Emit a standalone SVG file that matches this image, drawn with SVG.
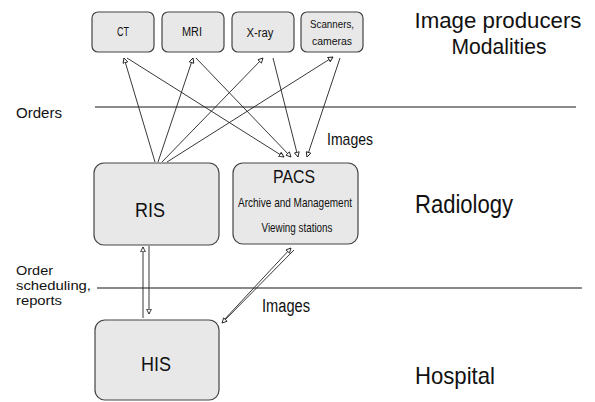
<svg xmlns="http://www.w3.org/2000/svg" width="595" height="402" viewBox="0 0 595 402">
<style>
text{font-family:"Liberation Sans",Arial,sans-serif;fill:#111}
.box{fill:#e8e8e8;stroke:#444;stroke-width:1.2}
.sep{stroke:#8a8a8a;stroke-width:2}
.c{fill:none;stroke:#222;stroke-width:0.9}
</style>
<defs>
<marker id="ah" viewBox="0 0 10 10" refX="9" refY="5" markerWidth="6" markerHeight="6" orient="auto" markerUnits="userSpaceOnUse">
<path d="M1,1 L9,5 L1,9 Z" fill="#fff" stroke="#222" stroke-width="1.5"/>
</marker>
</defs>
<rect width="595" height="402" fill="#fff"/>
<line class="sep" x1="95" y1="107" x2="576" y2="107"/>
<line class="sep" x1="97" y1="288" x2="582" y2="288"/>

<g id="ct"><rect class="box" x="92" y="12" width="62" height="40" rx="6"/><text x="123" y="36" font-size="12" text-anchor="middle" textLength="12" lengthAdjust="spacingAndGlyphs">CT</text></g>
<g id="mri"><rect class="box" x="162" y="12" width="62" height="40" rx="6"/><text x="192" y="36" font-size="12" text-anchor="middle" textLength="20" lengthAdjust="spacingAndGlyphs">MRI</text></g>
<g id="xray"><rect class="box" x="232" y="12" width="62" height="40" rx="6"/><text x="260" y="37" font-size="12" text-anchor="middle" textLength="27" lengthAdjust="spacingAndGlyphs">X-ray</text></g>
<g id="scanners"><rect class="box" x="301" y="12" width="62" height="40" rx="6"/><text x="332" y="28" font-size="11" text-anchor="middle" textLength="44" lengthAdjust="spacingAndGlyphs">Scanners,</text><text x="332" y="45" font-size="11" text-anchor="middle" textLength="40" lengthAdjust="spacingAndGlyphs">cameras</text></g>

<g id="ris"><rect class="box" x="94" y="163" width="125" height="82" rx="10"/><text x="150" y="217" font-size="21" text-anchor="middle" textLength="30" lengthAdjust="spacingAndGlyphs">RIS</text></g>
<g id="pacs"><rect class="box" x="233" y="163" width="125" height="81" rx="10"/><text x="294" y="183" font-size="18" text-anchor="middle" textLength="42" lengthAdjust="spacingAndGlyphs">PACS</text><text x="295" y="207" font-size="13" text-anchor="middle" textLength="114" lengthAdjust="spacingAndGlyphs">Archive and Management</text><text x="297" y="232" font-size="13" text-anchor="middle" textLength="71" lengthAdjust="spacingAndGlyphs">Viewing stations</text></g>
<g id="his"><rect class="box" x="95" y="320" width="124" height="80" rx="10"/><text x="156" y="371" font-size="21" text-anchor="middle" textLength="30" lengthAdjust="spacingAndGlyphs">HIS</text></g>

<g id="connectors">
<line class="c" x1="155" y1="162" x2="124" y2="58" marker-end="url(#ah)"/>
<line class="c" x1="158" y1="162" x2="193" y2="58" marker-end="url(#ah)"/>
<line class="c" x1="162" y1="162" x2="263" y2="58" marker-end="url(#ah)"/>
<line class="c" x1="167" y1="162" x2="333" y2="57" marker-end="url(#ah)"/>
<line class="c" x1="127" y1="58" x2="284" y2="157" marker-end="url(#ah)"/>
<line class="c" x1="196" y1="58" x2="291" y2="157" marker-end="url(#ah)"/>
<line class="c" x1="273" y1="58" x2="298" y2="157" marker-end="url(#ah)"/>
<line class="c" x1="340" y1="58" x2="307" y2="157" marker-end="url(#ah)"/>
<line class="c" x1="143" y1="318" x2="143" y2="247" marker-end="url(#ah)"/>
<line class="c" x1="149" y1="246" x2="149" y2="314" marker-end="url(#ah)"/>
<line class="c" x1="224" y1="320" x2="291" y2="248" marker-end="url(#ah)"/>
<line class="c" x1="294" y1="250" x2="222" y2="323" marker-end="url(#ah)"/>
</g>

<text x="327" y="145" font-size="17" textLength="46" lengthAdjust="spacingAndGlyphs">Images</text>
<text x="262" y="312" font-size="18" textLength="48" lengthAdjust="spacingAndGlyphs">Images</text>
<text x="16" y="118" font-size="15" textLength="46" lengthAdjust="spacingAndGlyphs">Orders</text>
<text x="16" y="275" font-size="13" textLength="37" lengthAdjust="spacingAndGlyphs">Order</text>
<text x="16" y="290" font-size="13" textLength="75" lengthAdjust="spacingAndGlyphs">scheduling,</text>
<text x="16" y="305" font-size="13" textLength="46" lengthAdjust="spacingAndGlyphs">reports</text>
<text x="498" y="28" font-size="22" text-anchor="middle" textLength="167" lengthAdjust="spacingAndGlyphs">Image producers</text>
<text x="499" y="54" font-size="22" text-anchor="middle" textLength="95" lengthAdjust="spacingAndGlyphs">Modalities</text>
<text x="415" y="213" font-size="25" textLength="98" lengthAdjust="spacingAndGlyphs">Radiology</text>
<text x="415" y="384" font-size="24" textLength="80" lengthAdjust="spacingAndGlyphs">Hospital</text>
</svg>
